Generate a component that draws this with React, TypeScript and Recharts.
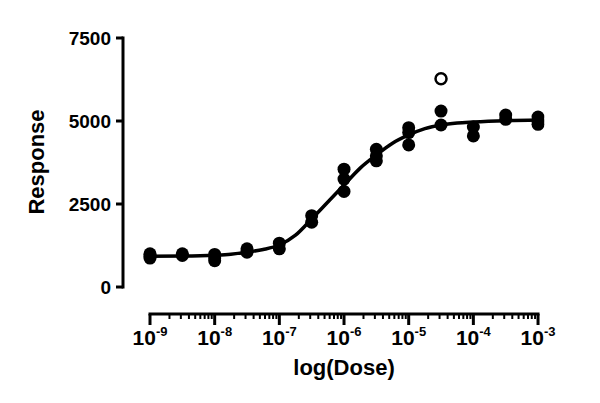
import React from 'react';
import { ComposedChart, Line, Scatter, XAxis, YAxis, ReferenceLine, Label } from 'recharts';

// Replicate responses at each log(dose)
const logDose = [-9, -8.5, -8, -7.5, -7, -6.5, -6, -5.5, -5, -4.5, -4, -3.5, -3];
const rep1 = [1000, 1000, 980, 1150, 1320, 2150, 3550, 4150, 4800, 5300, 4820, 5180, 5120];
const rep2 = [930, 950, 870, 1050, 1150, 1950, 3250, 3950, 4650, 4880, 4550, 5050, 5000];
const rep3: (number | null)[] = [870, null, 790, null, null, null, 2880, 3800, 4280, null, null, null, 4900];

// Excluded outlier (open circle)
const outlierDose = [-4.5];
const outlierResponse = [6270];

// Fitted curve
const fitDose = [-9, -8.5, -8, -7.75, -7.5, -7.25, -7, -6.75, -6.5, -6.25, -6, -5.75, -5.5, -5.25, -5, -4.75, -4.5, -4.25, -4, -3.5, -3];
const fitResponse = [930, 935, 960, 990, 1050, 1130, 1265, 1560, 2050, 2560, 3070, 3580, 3975, 4330, 4580, 4770, 4880, 4940, 4970, 5010, 5030];

const yTicks = [0, 2500, 5000, 7500];
const xMajorExp = [-9, -8, -7, -6, -5, -4, -3];
const xMinorMultipliers = [2, 3, 4, 5, 6, 7, 8, 9];

const X_MIN = -9.4175;
const X_MAX = -2.9;
const Y_MIN = -813;
const Y_MAX = 7500;

const FONT = '"Liberation Sans", Arial, Helvetica, sans-serif';

const pointData = logDose.flatMap((d, i) =>
  [rep1[i], rep2[i], rep3[i]].filter((v) => v !== null && v !== undefined).map((v) => ({ x: d, y: v as number }))
);
const outlierData = outlierDose.map((d, i) => ({ x: d, y: outlierResponse[i] }));
const fitData = fitDose.map((d, i) => ({ x: d, y: fitResponse[i] }));

const minorTicks = xMajorExp.slice(0, -1).flatMap((e) => xMinorMultipliers.map((m) => e + Math.log10(m)));
const allXTicks = [...xMajorExp, ...minorTicks].sort((a, b) => a - b);

const XTick = (props: any) => {
  const { x, y, payload } = props;
  const v = payload.value;
  const isMajor = xMajorExp.some((e) => Math.abs(e - v) < 1e-6);
  if (!isMajor) {
    return <line x1={x} x2={x} y1={y} y2={y + 5} stroke="#000" strokeWidth={2} />;
  }
  return (
    <g>
      <line x1={x} x2={x} y1={y} y2={y + 11} stroke="#000" strokeWidth={3} />
      <text x={x} y={y + 31} textAnchor="middle" fontFamily={FONT} fontWeight="bold" fontSize={21} fill="#000">
        10
        <tspan dy={-9} fontSize={13}>{String(Math.round(v))}</tspan>
      </text>
    </g>
  );
};

const FilledDot = (props: any) => <circle cx={props.cx} cy={props.cy} r={6.5} fill="#000" />;
const OpenDot = (props: any) => <circle cx={props.cx} cy={props.cy} r={5.5} fill="#fff" stroke="#000" strokeWidth={2.5} />;

const YTitle = (props: any) => {
  const cx = 36;
  const cy = 162;
  return (
    <text x={cx} y={cy} transform={`rotate(-90, ${cx}, ${cy})`} textAnchor="middle" dominantBaseline="central"
      fontFamily={FONT} fontWeight="bold" fontSize={22} fill="#000">
      Response
    </text>
  );
};

const XTitle = (props: any) => (
  <text x={344} y={375} textAnchor="middle" fontFamily={FONT} fontWeight="bold" fontSize={22} fill="#000">
    log(Dose)
  </text>
);

export default function App() {
  return (
    <div style={{ position: 'absolute', left: 0, top: 0, background: '#fff' }}>
      <ComposedChart width={600} height={403} margin={{ top: 38, right: 55.5, bottom: 0, left: 0 }}>
        <XAxis
          dataKey="x"
          type="number"
          domain={[X_MIN, X_MAX]}
          allowDataOverflow
          ticks={allXTicks}
          interval={0}
          tick={<XTick />}
          tickSize={0}
          tickMargin={0}
          axisLine={false}
          tickLine={false}
          height={89}
        >
          <Label content={<XTitle />} />
        </XAxis>
        <YAxis
          dataKey="y"
          type="number"
          domain={[Y_MIN, Y_MAX]}
          allowDataOverflow
          ticks={yTicks}
          interval={0}
          width={123}
          axisLine={false}
          tickLine={{ stroke: '#000', strokeWidth: 3 }}
          tickSize={7}
          tickMargin={5}
          tick={{ fill: '#000', fontSize: 19, fontWeight: 'bold', fontFamily: FONT }}
        >
          <Label content={<YTitle />} />
        </YAxis>
        <ReferenceLine
          segment={[{ x: X_MIN, y: 0 }, { x: X_MIN, y: Y_MAX }]}
          stroke="#000"
          strokeWidth={3}
          strokeLinecap="square"
          ifOverflow="visible"
        />
        <ReferenceLine
          segment={[{ x: -9, y: Y_MIN }, { x: -3, y: Y_MIN }]}
          stroke="#000"
          strokeWidth={3}
          strokeLinecap="square"
          ifOverflow="visible"
        />
        <Line
          data={fitData}
          dataKey="y"
          type="monotone"
          stroke="#000"
          strokeWidth={3.5}
          dot={false}
          activeDot={false}
          isAnimationActive={false}
        />
        <Scatter data={pointData} dataKey="y" shape={<FilledDot />} isAnimationActive={false} />
        <Scatter data={outlierData} dataKey="y" shape={<OpenDot />} isAnimationActive={false} />
      </ComposedChart>
    </div>
  );
}
